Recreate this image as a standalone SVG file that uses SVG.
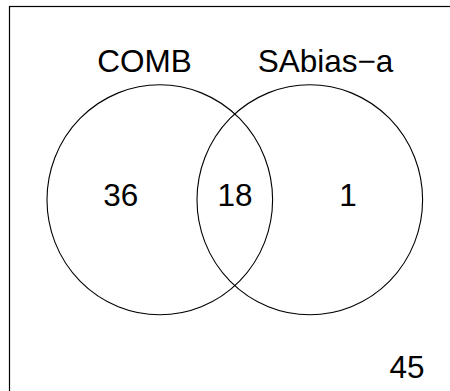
<svg xmlns="http://www.w3.org/2000/svg" width="450" height="391" viewBox="0 0 450 391">
<style>
.c{fill:none;stroke:#000;stroke-width:1.1}
.t{font-family:"Liberation Sans",Arial,sans-serif;font-size:31.5px;fill:#000;text-anchor:middle}
</style>
<rect x="0" y="0" width="450" height="391" fill="#fff"/>
<rect x="9.5" y="6.5" width="460" height="400" fill="none" stroke="#000" stroke-width="1.2"/>
<g id="set-comb">
<ellipse class="c" cx="159.8" cy="199.8" rx="112.8" ry="115"/>
<text class="t" x="144.5" y="71.7">COMB</text>
</g>
<g id="set-sabias">
<ellipse class="c" cx="309.8" cy="199.8" rx="112.8" ry="115"/>
<text class="t" x="325.5" y="71.7">SAbias−a</text>
</g>
<g id="counts">
<text class="t" x="120.8" y="206">36</text>
<text class="t" x="235" y="206">18</text>
<text class="t" x="348" y="206">1</text>
<text class="t" x="407" y="378.3">45</text>
</g>
</svg>
